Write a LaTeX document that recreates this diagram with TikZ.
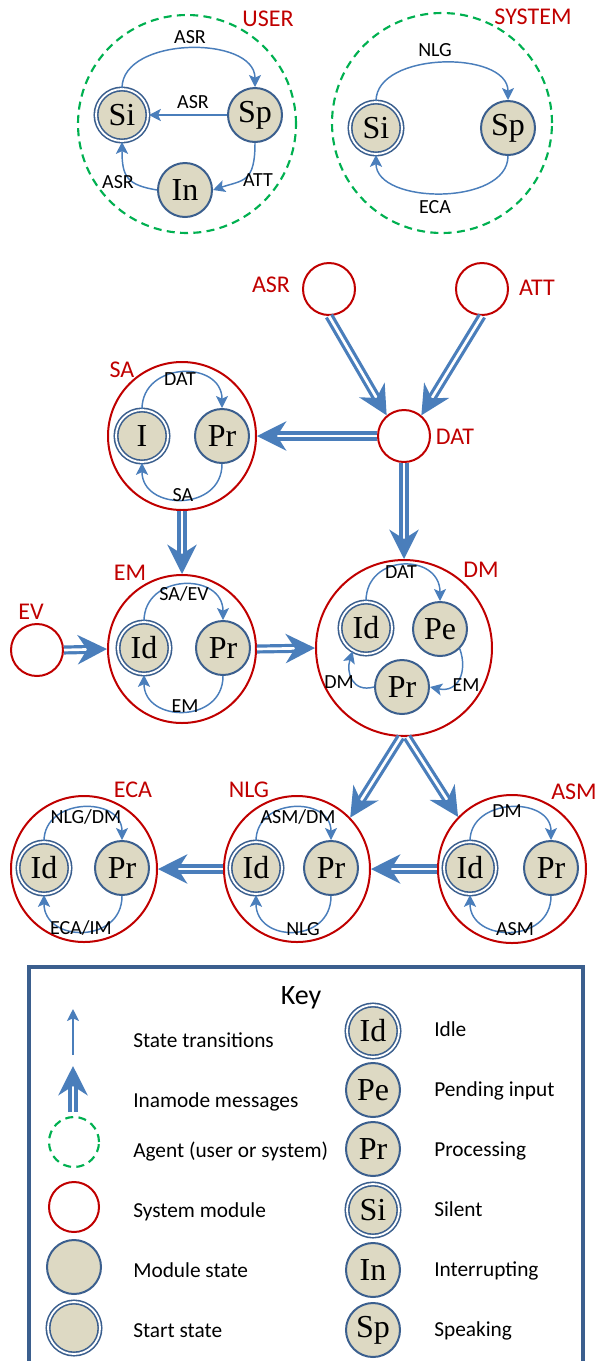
\documentclass[tikz,border=0pt]{standalone}
\usepackage{fontspec}
\setmainfont{Carlito}
\newfontfamily\stfont{Liberation Serif}
\usetikzlibrary{arrows.meta}
\definecolor{ablue}{HTML}{4A7EBB}
\definecolor{ring}{HTML}{3B5F8E}
\definecolor{tanfill}{HTML}{DDD9C3}
\definecolor{modred}{HTML}{C00000}
\definecolor{agreen}{HTML}{00B050}
\begin{document}
\begin{tikzpicture}[x=0.75pt,y=-0.75pt,
  st/.style={circle, draw=ring, fill=tanfill, line width=1.5pt, minimum size=40.5pt, inner sep=0pt, font=\stfont\fontsize{24}{24}\selectfont},
  stst/.style={st, double=white, double distance=1.4pt, line width=1.2pt, minimum size=39pt},
  modc/.style={circle, draw=modred, line width=1.5pt, inner sep=0pt, minimum size=#1},
  agc/.style={circle, draw=agreen, line width=1.6pt, dash pattern=on 6pt off 4pt, inner sep=0pt, minimum size=#1},
  tr/.style={draw=ablue, line width=1.1pt, -{Stealth[length=9pt,width=9pt,inset=2pt]}},
  msg/.style={draw=ablue, line width=2.4pt, double=white, double distance=2pt, -{Stealth[length=22pt,width=22pt,inset=7pt]}},
  lb/.style={font=\fontsize{15}{15}\selectfont, inner sep=0pt, text height=9.7pt, text depth=0pt},
  rl/.style={text=modred, font=\fontsize{18}{18}\selectfont, inner sep=0pt, text height=11.6pt, text depth=0pt},
  kl/.style={font=\fontsize{16}{16}\selectfont, anchor=west, inner sep=0pt, text height=10.3pt, text depth=0pt}
]
\useasboundingbox (0,0) rectangle (598,1361);
\clip (0,0) rectangle (598,1361);

% ---------- USER agent ----------
\node[agc=163.5pt] (uAg) at (187,124) {};
\node[rl] (uLab) at (268,19) {USER};
\node[stst] (uSi) at (122,115) {Si};
\node[st] (uSp) at (255,115) {Sp};
\node[st] (uIn) at (185,190) {In};
\draw[tr] (uSi.north) .. controls +(0,-52) and +(0,-52) .. (uSp.north);
\draw[tr] (uSp) -- (uSi);
\draw[tr] (uSp.south) .. controls +(0,40) and +(30,-10) .. (uIn.east);
\draw[tr] (uIn.west) .. controls +(-30,-5) and +(0,35) .. (uSi.south);
\node[lb] (uL1) at (190,37) {ASR};
\node[lb] (uL2) at (193,102) {ASR};
\node[lb] (uL3) at (258,180) {ATT};
\node[lb] (uL4) at (118,182) {ASR};

% ---------- SYSTEM agent ----------
\node[agc=165pt] (sAg) at (442,123) {};
\node[rl] (sLab) at (533,17) {SYSTEM};
\node[stst] (sSi) at (376,128) {Si};
\node[st] (sSp) at (508,128) {Sp};
\draw[tr] (sSi.north) .. controls +(0,-50) and +(0,-50) .. (sSp.north);
\draw[tr] (sSp.south) .. controls +(0,50) and +(0,50) .. (sSi.south);
\node[lb] (sL1) at (435,50) {NLG};
\node[lb] (sL2) at (435,207) {ECA};

% ---------- modules ----------
\node[modc=39pt] (mASR) at (329,289) {};
\node[modc=39pt] (mATT) at (482,289) {};
\node[modc=39pt] (mDAT) at (404,436) {};
\node[modc=111pt] (mSA) at (182,436) {};
\node[modc=111pt] (mEM) at (182,649) {};
\node[modc=39pt] (mEV) at (37,650) {};
\node[modc=132pt] (mDM) at (404,648) {};
\node[modc=109.5pt] (mECA) at (84,869) {};
\node[modc=109.5pt] (mNLG) at (297,869) {};
\node[modc=111pt] (mASM) at (512,869) {};

\node[rl] (lASR) at (271,285) {ASR};
\node[rl] (lATT) at (537,288) {ATT};
\node[rl] (lDAT) at (455,437) {DAT};
\node[rl] (lSA) at (122,370) {SA};
\node[rl] (lEM) at (130,573) {EM};
\node[rl] (lEV) at (31,612) {EV};
\node[rl] (lDM) at (481,570) {DM};
\node[rl] (lECA) at (133,790) {ECA};
\node[rl] (lNLG) at (249,790) {NLG};
\node[rl] (lASM) at (574,792) {ASM};

% SA
\node[stst] (saI) at (142,436) {I};
\node[st] (saPr) at (222,436) {Pr};
\draw[tr] (saI.north) .. controls +(0,-48) and +(0,-48) .. (saPr.north);
\draw[tr] (saPr.south) .. controls +(0,48) and +(0,48) .. (saI.south);
\node[lb] (saL1) at (180,379) {DAT};
\node[lb] (saL2) at (183,495) {SA};

% EM
\node[stst] (emId) at (144,648) {Id};
\node[st] (emPr) at (223,648) {Pr};
\draw[tr] (emId.north) .. controls +(0,-48) and +(0,-48) .. (emPr.north);
\draw[tr] (emPr.south) .. controls +(0,48) and +(0,48) .. (emId.south);
\node[lb] (emL1) at (184,594) {SA/EV};
\node[lb] (emL2) at (185,706) {EM};

% DM
\node[stst] (dmId) at (366,628) {Id};
\node[st] (dmPe) at (440,629) {Pe};
\node[st] (dmPr) at (402,687) {Pr};
\draw[tr] (dmId.north) .. controls +(0,-48) and +(0,-48) .. (dmPe.north);
\draw[tr] (dmPe.-45) .. controls (468,672) and (458,693) .. (dmPr.east);
\draw[tr] (dmPr.west) .. controls (352,693) and (346,672) .. (dmId.-120);
\node[lb] (dmL1) at (401,572) {DAT};
\node[lb] (dmL2) at (466,685) {EM};
\node[lb] (dmL3) at (339,682) {DM};

% ECA
\node[stst] (ecId) at (44,868) {Id};
\node[st] (ecPr) at (122,868) {Pr};
\draw[tr] (ecId.north) .. controls +(0,-44) and +(0,-44) .. (ecPr.north);
\draw[tr] (ecPr.south) .. controls +(0,48) and +(0,48) .. (ecId.south);
\node[lb] (ecL1) at (86,817) {NLG/DM};
\node[lb] (ecL2) at (81,928) {ECA/IM};

% NLG
\node[stst] (nlId) at (256,868) {Id};
\node[st] (nlPr) at (331,868) {Pr};
\draw[tr] (nlId.north) .. controls +(0,-44) and +(0,-44) .. (nlPr.north);
\draw[tr] (nlPr.south) .. controls +(0,48) and +(0,48) .. (nlId.south);
\node[lb] (nlL1) at (298,817) {ASM/DM};
\node[lb] (nlL2) at (303,929) {NLG};

% ASM
\node[stst] (asId) at (470,868) {Id};
\node[st] (asPr) at (551,868) {Pr};
\draw[tr] (asId.north) .. controls +(0,-44) and +(0,-44) .. (asPr.north);
\draw[tr] (asPr.south) .. controls +(0,48) and +(0,48) .. (asId.south);
\node[lb] (asL1) at (507,811) {DM};
\node[lb] (asL2) at (515,929) {ASM};

% ---------- messages ----------
\draw[msg] (mASR.south) -- (mDAT.130);
\draw[msg] (mATT.south) -- (mDAT.50);
\draw[msg] (mDAT.west) -- (mSA.east);
\draw[msg] (mDAT.south) -- (mDM.north);
\draw[msg] (mSA.south) -- (mEM.north);
\draw[msg] (mEV.east) -- (mEM.west);
\draw[msg] (mEM.east) -- (mDM.west);
\draw[msg] (mDM.-92) -- (mNLG.44);
\draw[msg] (mDM.-88) -- (mASM.136);
\draw[msg] (mNLG.west) -- (mECA.east);
\draw[msg] (mASM.west) -- (mNLG.east);

% ---------- key ----------
\draw[ring, line width=2.5pt] (29,967) rectangle (583,1380);
\node[font=\fontsize{21}{21}\selectfont, inner sep=0pt, text height=13.5pt, text depth=0pt] (kTitle) at (301,995) {Key};
\coordinate (k1a) at (73,1055);
\coordinate (k1b) at (73,1009);
\draw[tr] (k1a) -- (k1b);
\coordinate (k2a) at (73,1112);
\coordinate (k2b) at (73,1066);
\draw[msg] (k2a) -- (k2b);
\node[agc=37.5pt] (kAg) at (74,1142) {};
\node[modc=37.5pt] (kMod) at (74,1207) {};
\node[st] (kSt) at (74,1267) {};
\node[stst] (kStart) at (74,1328) {};
\node[kl] (kt1) at (133,1041) {State transitions};
\node[kl] (kt2) at (133,1101) {Inamode messages};
\node[kl] (kt3) at (133,1151) {Agent (user or system)};
\node[kl] (kt4) at (133,1211) {System module};
\node[kl] (kt5) at (133,1271) {Module state};
\node[kl] (kt6) at (133,1331) {Start state};

\node[stst] (kId) at (373,1031) {Id};
\node[st] (kPe) at (373,1090) {Pe};
\node[st] (kPr) at (373,1149) {Pr};
\node[stst] (kSi) at (373,1210) {Si};
\node[st] (kIn) at (373,1270) {In};
\node[st] (kSp) at (373,1330) {Sp};
\node[kl] (kr1) at (434,1030) {Idle};
\node[kl] (kr2) at (434,1090) {Pending input};
\node[kl] (kr3) at (434,1150) {Processing};
\node[kl] (kr4) at (434,1210) {Silent};
\node[kl] (kr5) at (434,1270) {Interrupting};
\node[kl] (kr6) at (434,1330) {Speaking};
\end{tikzpicture}
\end{document}
